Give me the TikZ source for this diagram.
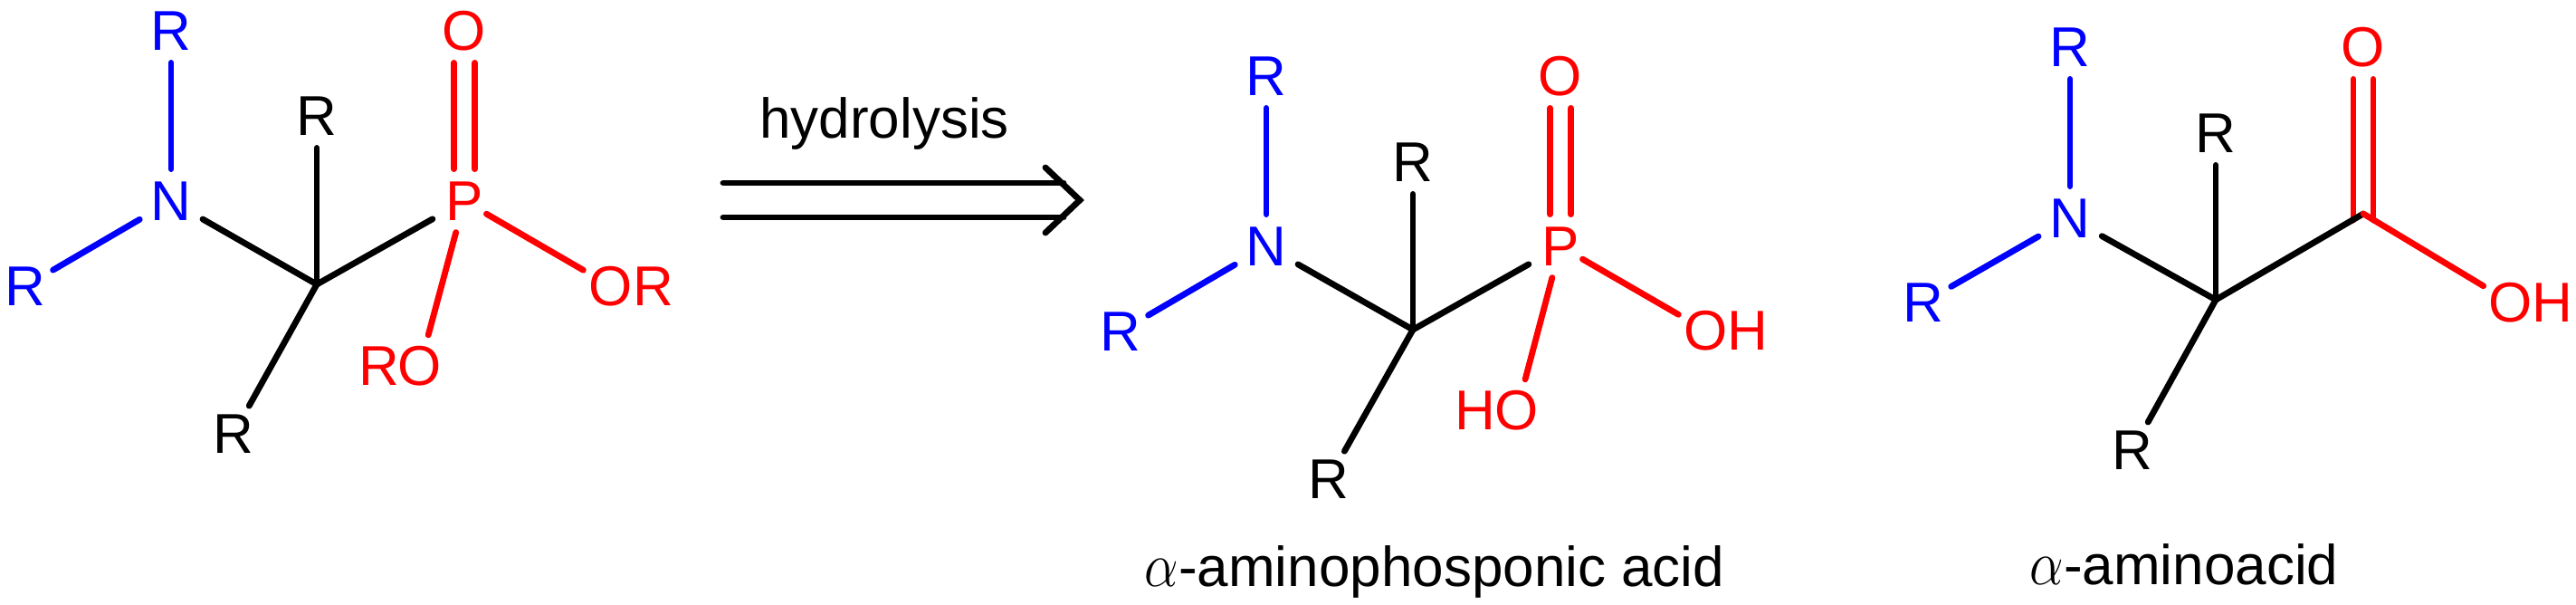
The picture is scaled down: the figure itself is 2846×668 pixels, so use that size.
\documentclass[tikz,border=0pt]{standalone}
\usepackage{fontspec}
\setmainfont{Liberation Sans}
\usetikzlibrary{shapes.geometric}
\newcommand{\chemfont}{\fontsize{31}{36}\selectfont}
\newcommand{\alphachar}{\scalebox{1.2}[1.4]{\fontsize{24.88}{30}\selectfont\(\alpha\)}}
\tikzset{
    atom/.style={circle,inner sep=0pt,minimum size=35pt,font=\chemfont},
    hub/.style={ellipse,inner sep=0pt,minimum width=42pt,minimum height=35pt,font=\chemfont},
    bond/.style={line width=3.4pt,line cap=round,line join=miter},
    caption/.style={anchor=base,inner sep=0pt,font=\chemfont},
}
\begin{document}
\begin{tikzpicture}[x=0.5pt,y=-0.5pt]
    \useasboundingbox (0,0) rectangle (2846,668);
    % ester
    \node[atom,blue] (ra1) at (189,34) {R};
    \node[hub,blue] (na) at (189,222) {N};
    \node[atom,blue] (ra2) at (28,316) {R};
    \coordinate (ca) at (350,314);
    \node[atom] (ra3) at (350,128) {R};
    \node[atom] (ra4) at (258,479) {R};
    \node[hub,red] (pa) at (513,222) {P};
    \node[atom,red] (oa1) at (513,34) {O};
    \node[atom,red] (oa2) at (675,316) {O};
    \node[atom,red] (ra5) at (722,316) {R};
    \node[atom,red] (oa3) at (464,404) {O};
    \node[atom,red] (ra6) at (419,404) {R};
    \draw[bond,blue] (na) -- (ra1);
    \draw[bond,blue] (na) -- (ra2);
    \draw[bond] (ca) -- (na);
    \draw[bond] (ca) -- (pa);
    \draw[bond] (ca) -- (ra3);
    \draw[bond] (ca) -- (ra4);
    \draw[bond,red] ([xshift=-5.75pt]pa.north) -- ([xshift=-5.75pt]oa1.south);
    \draw[bond,red] ([xshift=5.75pt]pa.north) -- ([xshift=5.75pt]oa1.south);
    \draw[bond,red,shorten <=-6pt] (pa) -- (oa2);
    \draw[bond,red] (pa) -- (oa3);
    % arrow
    \node[caption] (hyd) at (977,153) {hydrolysis};
    \coordinate (aw1) at (799,202);
    \coordinate (ae1) at (1175,202);
    \coordinate (aw2) at (799,240);
    \coordinate (ae2) at (1175,240);
    \coordinate (atip) at (1193,221);
    \coordinate (ab1) at (1155,185);
    \coordinate (ab2) at (1155,257);
    \draw[bond] (aw1) -- (ae1);
    \draw[bond] (aw2) -- (ae2);
    \draw[bond] (ab1) -- (atip) -- (ab2);
    % phosphonic acid
    \node[atom,blue] (rb1) at (1399,84) {R};
    \node[hub,blue] (nb) at (1399,272) {N};
    \node[atom,blue] (rb2) at (1238,366) {R};
    \coordinate (cb) at (1561,364);
    \node[atom] (rb3) at (1561,179) {R};
    \node[atom] (rb4) at (1468,529) {R};
    \node[hub,red] (pb) at (1724,272) {P};
    \node[atom,red] (ob1) at (1724,84) {O};
    \node[atom,red] (ob2) at (1885,365) {O};
    \node[atom,red] (hb1) at (1931,365) {H};
    \node[atom,red] (ob3) at (1676,453) {O};
    \node[atom,red] (hb2) at (1630,453) {H};
    \draw[bond,blue] (nb) -- (rb1);
    \draw[bond,blue] (nb) -- (rb2);
    \draw[bond] (cb) -- (nb);
    \draw[bond] (cb) -- (pb);
    \draw[bond] (cb) -- (rb3);
    \draw[bond] (cb) -- (rb4);
    \draw[bond,red] ([xshift=-5.75pt]pb.north) -- ([xshift=-5.75pt]ob1.south);
    \draw[bond,red] ([xshift=5.75pt]pb.north) -- ([xshift=5.75pt]ob1.south);
    \draw[bond,red,shorten <=-6pt] (pb) -- (ob2);
    \draw[bond,red] (pb) -- (ob3);
    \node[caption] (capb) at (1585,647) {\alphachar-aminophosponic acid};
    % amino acid
    \node[atom,blue] (rc1) at (2287,52) {R};
    \node[hub,blue] (nc) at (2287,241) {N};
    \node[atom,blue] (rc2) at (2125,334) {R};
    \coordinate (cc) at (2448,331);
    \node[atom] (rc3) at (2448,147) {R};
    \node[atom] (rc4) at (2356,497) {R};
    \coordinate (cd) at (2611,236);
    \coordinate (cdl) at (2600,243);
    \coordinate (cdr) at (2622,243);
    \node[atom,red] (oc1) at (2611,52) {O};
    \node[atom,red] (oc2) at (2774,334) {O};
    \node[atom,red] (hc) at (2820,334) {H};
    \draw[bond,blue] (nc) -- (rc1);
    \draw[bond,blue] (nc) -- (rc2);
    \draw[bond] (cc) -- (nc);
    \draw[bond] (cc) -- (rc3);
    \draw[bond] (cc) -- (rc4);
    \draw[bond,red] (cdl) -- (cdl |- oc1.south);
    \draw[bond,red] (cdr) -- (cdr |- oc1.south);
    \draw[bond] (cc) -- (cd);
    \draw[bond,red] (cd) -- (oc2);
    \node[caption] (capc) at (2413,645) {\alphachar-aminoacid};
\end{tikzpicture}
\end{document}
